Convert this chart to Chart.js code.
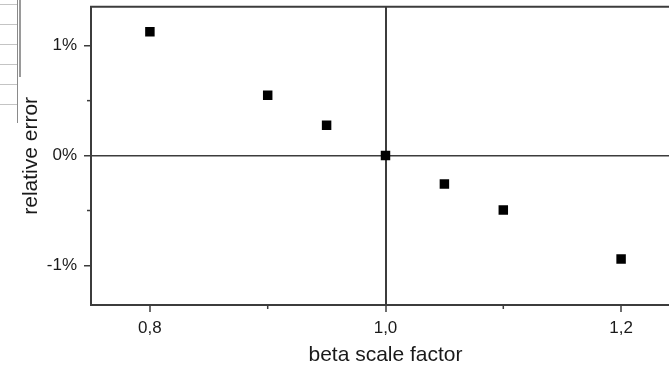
<!DOCTYPE html>
<html>
<head>
<meta charset="utf-8">
<script src="https://cdn.jsdelivr.net/npm/chart.js@4"></script>
<style>
  html, body { margin: 0; padding: 0; background: #fff; overflow: hidden; }
  #wrap { width: 700px; height: 368px; }
</style>
</head>
<body>
<div id="wrap"><canvas id="errChart" width="700" height="368"></canvas></div>
<script>
// beta scale factor vs. relative error (%)
const betaFactors = [0.8, 0.9, 0.95, 1.0, 1.05, 1.1, 1.2];
const relErrors = [1.127, 0.55, 0.277, 0.0, -0.259, -0.495, -0.941];

const xTicks = [0.8, 0.9, 1.0, 1.1, 1.2];
const xTickLabels = ["0,8", "", "1,0", "", "1,2"];
const yTicks = [-1, -0.5, 0, 0.5, 1];
const yTickLabels = ["-1%", "", "0%", "", "1%"];

const AXIS = "#3c3c3c";
const TEXT = "#1a1a1a";
const FONT = "'Liberation Sans', Arial, sans-serif";

const labelFor = (values, labels, v) => {
  const i = values.findIndex((t) => Math.abs(t - v) < 1e-9);
  return i < 0 ? "" : labels[i];
};

// frame top edge, short minor ticks and the table edge at the far left
const extras = {
  id: "extras",
  beforeDatasetsDraw(chart) {
    const { ctx, chartArea: a, scales } = chart;
    ctx.save();
    ctx.strokeStyle = AXIS;
    ctx.lineWidth = 2;
    ctx.beginPath();
    ctx.moveTo(a.left - 1, a.top);
    ctx.lineTo(a.right, a.top);
    ctx.stroke();

    ctx.lineWidth = 1.5;
    xTicks.forEach((v, i) => {
      if (xTickLabels[i]) return;
      const px = scales.x.getPixelForValue(v);
      ctx.beginPath();
      ctx.moveTo(px, a.bottom);
      ctx.lineTo(px, a.bottom + 4);
      ctx.stroke();
    });
    yTicks.forEach((v, i) => {
      if (yTickLabels[i]) return;
      const py = scales.y.getPixelForValue(v);
      ctx.beginPath();
      ctx.moveTo(a.left, py);
      ctx.lineTo(a.left - 4, py);
      ctx.stroke();
    });

    ctx.strokeStyle = "#c4c4c4";
    ctx.lineWidth = 1;
    [4.5, 24.5, 44.5, 64.5, 84.5, 104.5].forEach((y) => {
      ctx.beginPath();
      ctx.moveTo(0, y);
      ctx.lineTo(18, y);
      ctx.stroke();
    });
    ctx.strokeStyle = "#8a8a8a";
    ctx.beginPath();
    ctx.moveTo(17.5, 0);
    ctx.lineTo(17.5, 123);
    ctx.stroke();
    ctx.strokeStyle = "#9a9a9a";
    ctx.lineWidth = 2;
    ctx.beginPath();
    ctx.moveTo(20, 0);
    ctx.lineTo(20, 77);
    ctx.stroke();
    ctx.restore();
  }
};

new Chart(document.getElementById("errChart"), {
  type: "scatter",
  data: {
    datasets: [{
      data: betaFactors.map((b, i) => ({ x: b, y: relErrors[i] })),
      pointStyle: "rect",
      pointRadius: 6.7,
      pointHoverRadius: 6.7,
      pointBorderWidth: 0,
      pointBackgroundColor: "#000",
      borderColor: "#000"
    }]
  },
  options: {
    responsive: false,
    animation: false,
    layout: { padding: { top: 6, right: 20, left: 0, bottom: 0 } },
    plugins: { legend: { display: false }, tooltip: { enabled: false } },
    scales: {
      x: {
        type: "linear",
        min: 0.75,
        max: 1.25,
        afterBuildTicks: (s) => { s.ticks = xTicks.map((v) => ({ value: v })); },
        afterFit: (s) => { s.height = 63; s.paddingLeft = 0; s.paddingRight = 0; },
        border: { color: AXIS, width: 2 },
        grid: {
          color: (c) => (c.tick && Math.abs(c.tick.value - 1) < 1e-9 ? AXIS : "rgba(0,0,0,0)"),
          lineWidth: 2,
          tickLength: 7,
          tickWidth: 1.5,
          tickColor: (c) => (c.tick && labelFor(xTicks, xTickLabels, c.tick.value) ? AXIS : "rgba(0,0,0,0)")
        },
        ticks: {
          autoSkip: false,
          maxRotation: 0,
          padding: 6,
          color: TEXT,
          font: { family: FONT, size: 17 },
          callback: (v) => labelFor(xTicks, xTickLabels, v)
        },
        title: {
          display: true,
          text: "beta scale factor",
          color: TEXT,
          font: { family: FONT, size: 21 },
          padding: { top: 0, bottom: 0 }
        }
      },
      y: {
        type: "linear",
        min: -1.36,
        max: 1.355,
        afterBuildTicks: (s) => { s.ticks = yTicks.map((v) => ({ value: v })); },
        afterFit: (s) => { s.width = 91; s.paddingTop = 0; s.paddingBottom = 0; },
        border: { color: AXIS, width: 2 },
        grid: {
          color: (c) => (c.tick && Math.abs(c.tick.value) < 1e-9 ? AXIS : "rgba(0,0,0,0)"),
          lineWidth: 1.5,
          tickLength: 7,
          tickWidth: 1.5,
          tickColor: (c) => (c.tick && labelFor(yTicks, yTickLabels, c.tick.value) ? AXIS : "rgba(0,0,0,0)")
        },
        ticks: {
          autoSkip: false,
          padding: 7,
          color: TEXT,
          font: { family: FONT, size: 17 },
          callback: (v) => labelFor(yTicks, yTickLabels, v)
        },
        title: {
          display: true,
          text: "relative error",
          color: TEXT,
          font: { family: FONT, size: 21 },
          padding: { top: 19, bottom: 0 }
        }
      }
    }
  },
  plugins: [extras]
});
</script>
</body>
</html>
